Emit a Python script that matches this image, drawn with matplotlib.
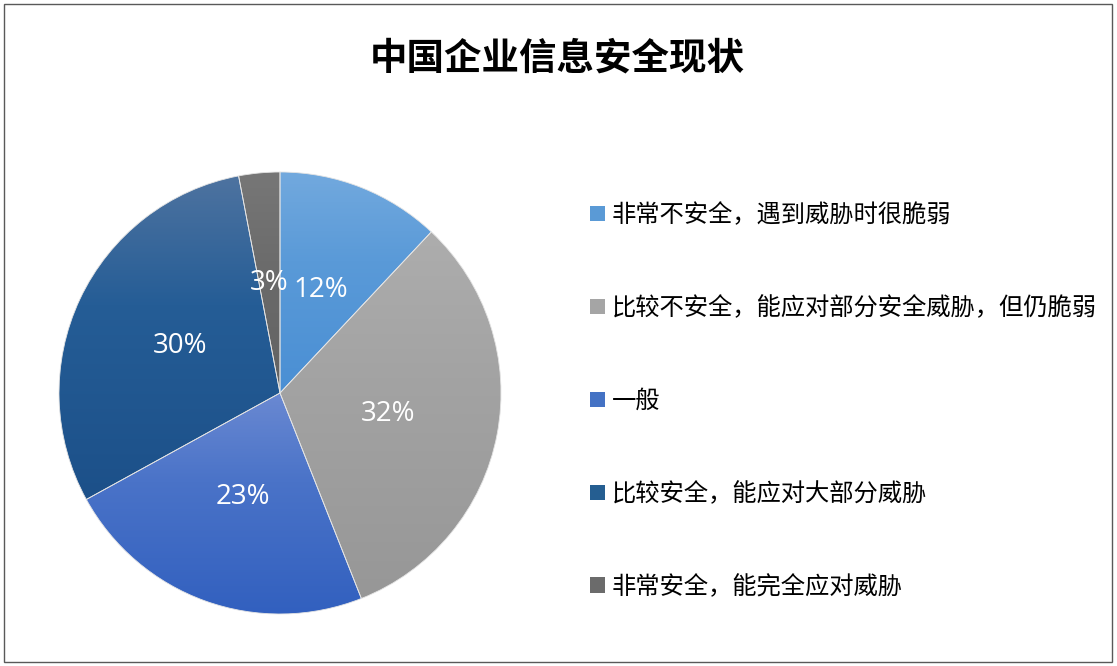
import numpy as np
import matplotlib
matplotlib.use("Agg")
import matplotlib.pyplot as plt
from matplotlib.colors import LinearSegmentedColormap
from matplotlib.patches import Patch, Rectangle

plt.rcParams['font.family'] = ['Noto Sans CJK SC', 'DejaVu Sans']

title = '中国企业信息安全现状'
labels = ['非常不安全，遇到威胁时很脆弱',
          '比较不安全，能应对部分安全威胁，但仍脆弱',
          '一般',
          '比较安全，能应对大部分威胁',
          '非常安全，能完全应对威胁']
values = [12, 32, 23, 30, 3]

# gradient stops per slice: top of slice, middle, bottom
top_cols = ['#72a9de', '#adadad', '#6a89d2', '#4e73a0', '#777777']
mid_cols = ['#5a9ad8', '#a3a3a3', '#4a73c8', '#255d96', '#6c6c6c']
bot_cols = ['#4a8fd4', '#979797', '#3260bf', '#1c5089', '#626262']
legend_cols = ['#5a9ad6', '#a5a5a5', '#4472c4', '#255e91', '#6b6b6b']

fig = plt.figure(figsize=(11.17, 6.66), dpi=100)
fig.patch.set_facecolor('white')

# outer border
fig.add_artist(Rectangle((4/1117, 4/666), 1108/1117, 658/666, transform=fig.transFigure,
                         fill=False, edgecolor='#595959', linewidth=1.0))

fig.text(557/1117, 1-58/666, title, ha='center', va='center',
         fontsize=27, fontweight='bold', color='black')

cx, cy, r = 280, 393, 221
ax = fig.add_axes([(cx-r)/1117, (666-cy-r)/666, 2*r/1117, 2*r/666])
wedges, texts, autotexts = ax.pie(values, startangle=90, counterclock=False, radius=1,
                                  autopct='%d%%', pctdistance=0.5,
                                  textprops=dict(color='white', fontsize=20,
                                                 family=['Open Sans', 'DejaVu Sans']))
ax.set_xlim(-1, 1)
ax.set_ylim(-1, 1)
ax.set_aspect('equal')
ax.axis('off')

grad = np.linspace(1, 0, 256).reshape(-1, 1)
for w, c1, c2, c3 in zip(wedges, top_cols, mid_cols, bot_cols):
    ext = w.get_path().get_extents()
    cmap = LinearSegmentedColormap.from_list('g', [(0, c3), (0.6, c2), (1, c1)])
    im = ax.imshow(grad, cmap=cmap, extent=(ext.x0, ext.x1, ext.y0, ext.y1), aspect='auto',
                   origin='upper', zorder=1, interpolation='bilinear')
    im.set_clip_path(w)
    w.set_facecolor('none')
    w.set_edgecolor('#e4e4e4')
    w.set_linewidth(0.6)
    w.set_zorder(2)
ax.set_xlim(-1, 1)
ax.set_ylim(-1, 1)
for t in autotexts:
    t.set_zorder(4)

handles = [Patch(facecolor=c, edgecolor='none') for c in legend_cols]
fig.legend(handles, labels, loc='center left', bbox_to_anchor=(590/1117, 1-401/666),
           frameon=False, fontsize=17.5, handlelength=0.6, handleheight=0.6,
           handletextpad=0.3, labelspacing=2.75, borderpad=0, borderaxespad=0)

fig.savefig('out.png', dpi=100)
